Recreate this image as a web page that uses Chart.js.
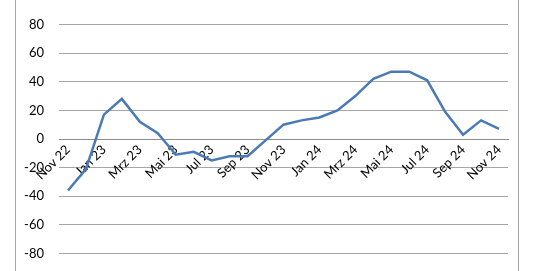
<!DOCTYPE html>
<html>
<head>
<meta charset="utf-8">
<script src="https://cdn.jsdelivr.net/npm/chart.js@4"></script>
<style>
  html, body { margin: 0; padding: 0; background: #fff; overflow: hidden; }
  #frame { position: absolute; left: 15px; top: -5px; width: 502px; height: 290px;
           border-left: 1px solid #a6a6a6; border-right: 1px solid #a6a6a6; }
  #wrap { position: absolute; left: 0; top: -27px; width: 536px; height: 332px; }
</style>
</head>
<body>
<div id="frame"></div>
<div id="wrap"><canvas id="myChart"></canvas></div>
<script>
var months = ['Nov 22', 'Dez 22', 'Jan 23', 'Feb 23', 'Mrz 23', 'Apr 23', 'Mai 23', 'Jun 23', 'Jul 23',
  'Aug 23', 'Sep 23', 'Okt 23', 'Nov 23', 'Dez 23', 'Jan 24', 'Feb 24', 'Mrz 24', 'Apr 24',
  'Mai 24', 'Jun 24', 'Jul 24', 'Aug 24', 'Sep 24', 'Okt 24', 'Nov 24'];
var values = [-36, -21, 17, 28, 12, 4, -11, -9, -15, -12, -12, -1, 10, 13, 15, 20, 30, 42,
  47, 47, 41, 19, 3, 13, 7];
var yMin = -100, yMax = 100, yStep = 20;

var ctx = document.getElementById('myChart').getContext('2d');
var myChart = new Chart(ctx, {
    type: 'line',
    data: {
        labels: months,
        datasets: [{
            data: values,
            borderColor: '#4a7ab5',
            borderWidth: 2.5,
            pointRadius: 0,
            tension: 0
        }]
    },
    options: {
        responsive: true,
        maintainAspectRatio: false,
        animation: false,
        layout: { padding: { left: 0, right: 28, top: 10, bottom: 0 } },
        plugins: { legend: { display: false }, tooltip: { enabled: false } },
        scales: {
            x: {
                position: { y: 0 },
                offset: true,
                grid: { display: false, drawTicks: false },
                border: { display: true, color: '#8c8c8c', width: 1 },
                ticks: {
                    autoSkip: false,
                    maxRotation: 45,
                    minRotation: 45,
                    padding: 3,
                    color: '#000',
                    font: { family: 'Lato', size: 13 },
                    callback: function (v, i) { return i % 2 === 0 ? months[i] : ''; }
                }
            },
            y: {
                min: yMin,
                max: yMax,
                afterFit: function (scale) { scale.width = 59; },
                grid: { color: '#a6a6a6', drawTicks: false },
                border: { display: false },
                ticks: {
                    stepSize: yStep,
                    padding: 15,
                    color: '#000',
                    font: { family: 'Lato', size: 13 }
                }
            }
        }
    }
});
</script>
</body>
</html>
